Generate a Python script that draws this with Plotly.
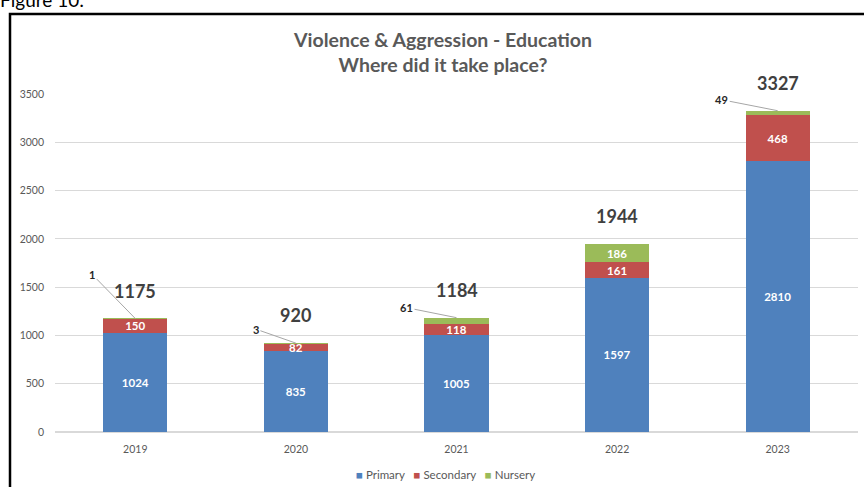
import plotly.graph_objects as go

years = ["2019", "2020", "2021", "2022", "2023"]
primary = [1024, 835, 1005, 1597, 2810]
secondary = [150, 82, 118, 161, 468]
nursery = [1, 3, 61, 186, 49]
totals = [1175, 920, 1184, 1944, 3327]
series_names = ["Primary", "Secondary", "Nursery"]

FONT = "Lato"
colors = ["#4F81BD", "#C0504D", "#9BBB59"]

# pixel offsets of the outside nursery labels (layout only)
leader_offsets = {"2019": (-43, -44), "2020": (-40, -14), "2021": (-50, -10), "2023": (-56, -11)}

fig = go.Figure()
inside_font = dict(family=FONT, size=11.5, color="white", weight="bold")

def bar(name, vals, color, texts):
    fig.add_trace(go.Bar(
        name=name, x=years, y=vals, marker=dict(color=color, line=dict(width=0)),
        text=texts, textposition="inside", insidetextanchor="middle",
        textangle=0, constraintext="none", textfont=inside_font,
        hoverinfo="x+y", showlegend=False,
    ))

bar(series_names[0], primary, colors[0], [str(v) for v in primary])
bar(series_names[1], secondary, colors[1], [str(v) for v in secondary])
bar(series_names[2], nursery, colors[2], [str(v) if v > 100 else "" for v in nursery])

annotations = []
for i, (y, t) in enumerate(zip(years, totals)):
    annotations.append(dict(x=i, y=t, text=str(t), showarrow=False, yshift=28,
                            font=dict(family=FONT, size=18, color="#404040", weight="bold")))
for i, (y, n, t) in enumerate(zip(years, nursery, totals)):
    if y in leader_offsets:
        ax, ay = leader_offsets[y]
        annotations.append(dict(x=i, y=t, text=str(n), showarrow=True, arrowhead=0,
                                ax=ax, ay=ay, arrowcolor="#A6A6A6", arrowwidth=1, standoff=0,
                                font=dict(family=FONT, size=11, color="#262626", weight="bold")))

W, H = 864, 487
L, R, T, B = 55, 6, 94, 55
pw, ph = W - L - R, H - T - B
def px(x):
    return (x - L) / pw
def py(y):
    return (H - B - y) / ph

annotations.append(dict(xref="paper", yref="paper", x=px(-2), y=py(-1), xanchor="left", yanchor="middle",
                        text="Figure 10:", showarrow=False,
                        font=dict(family=FONT, size=19, color="#000000")))
annotations.append(dict(xref="paper", yref="paper", x=px(442), y=py(52), xanchor="center", yanchor="middle",
                        text="Violence & Aggression - Education<br>Where did it take place?", showarrow=False,
                        font=dict(family=FONT, size=19.5, color="#595959", weight="bold")))

legend_text = "&nbsp;&nbsp;&nbsp;".join(
    f'<span style="color:{c}">■</span> {n}' for n, c in zip(series_names, colors))
annotations.append(dict(xref="paper", yref="paper", x=px(445), y=py(474), xanchor="center", yanchor="middle",
                        text=legend_text, showarrow=False,
                        font=dict(family=FONT, size=11.5, color="#595959")))

fig.update_layout(
    barmode="stack",
    bargap=0.6,
    width=W, height=H,
    margin=dict(l=L, r=R, t=T, b=B),
    paper_bgcolor="white", plot_bgcolor="white",
    font=dict(family=FONT, color="#595959"),
    showlegend=False,
    annotations=annotations,
    shapes=[dict(type="rect", xref="paper", yref="paper", x0=px(10), x1=px(900), y0=py(520), y1=py(14),
                 line=dict(color="black", width=2.5), fillcolor="rgba(0,0,0,0)", layer="above")],
    xaxis=dict(type="category", categoryorder="array", categoryarray=years, range=[-0.5, 4.5],
               showgrid=False, showline=True, linecolor="#D9D9D9", ticks="",
               ticklabelstandoff=7,
               tickfont=dict(family=FONT, size=10.5, color="#595959")),
    yaxis=dict(range=[0, 3500], dtick=500, showgrid=True, gridcolor="#D9D9D9", gridwidth=1,
               zeroline=True, zerolinecolor="#D9D9D9", showline=False, ticks="",
               ticklabelstandoff=10,
               tickfont=dict(family=FONT, size=10.5, color="#595959")),
)

fig.write_html("out.html")
